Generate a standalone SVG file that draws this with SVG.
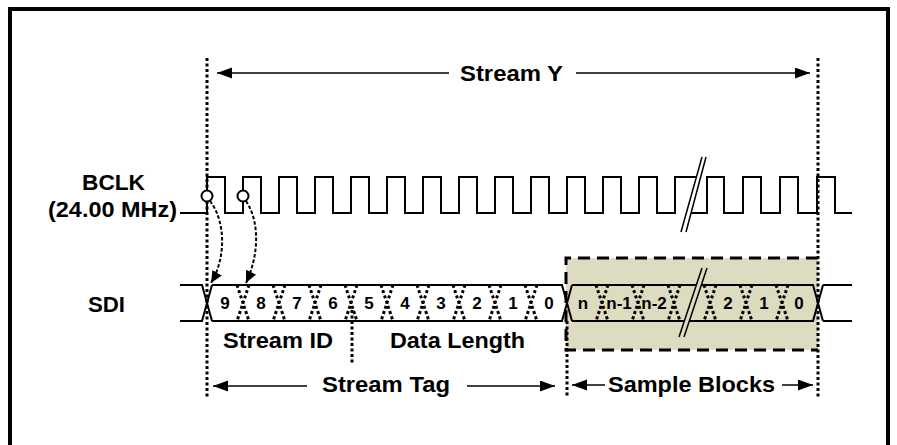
<svg xmlns="http://www.w3.org/2000/svg" width="897" height="445" viewBox="0 0 897 445">
<style>
.t{font-family:"Liberation Sans",Arial,sans-serif;font-weight:bold;fill:#000}
.big{font-size:22px}
.bit{font-size:17px;text-anchor:middle}
.ln{stroke:#000;stroke-width:2;fill:none}
.dot{stroke:#000;stroke-width:3;stroke-dasharray:3,2.5;fill:none}
.dx{stroke:#000;stroke-width:3;stroke-dasharray:3,2.5;fill:none}
.cv{stroke:#000;stroke-width:2;stroke-dasharray:3.5,2;fill:none}
.ar{stroke:#000;stroke-width:1.5;fill:none}
</style>
<defs>
<marker id="ah" markerUnits="userSpaceOnUse" markerWidth="16" markerHeight="12" refX="15" refY="5.5" orient="auto-start-reverse">
<path d="M0,0 L15,5.5 L0,11 z" fill="#000"/>
</marker>
<marker id="ah2" markerUnits="userSpaceOnUse" markerWidth="13" markerHeight="12" refX="12" refY="5.5" orient="auto">
<path d="M0,0 L12,5.5 L0,11 z" fill="#000"/>
</marker>
</defs>
<rect x="10" y="9" width="878" height="460" fill="#fff" stroke="#000" stroke-width="4"/>

<g id="sample-box">
<rect x="566" y="258" width="252" height="92" fill="#dddbc0"/>
<path d="M818,258 H566 V350 H818" fill="none" stroke="#000" stroke-width="3" stroke-dasharray="12,7"/>
</g>

<g id="bclk">
<path class="ln" d="M180,213 H207 V177 H225 V213 H243 V177 H261 V213 H279 V177 H297 V213 H315 V177 H333 V213 H351 V177 H369 V213 H387 V177 H405 V213 H423 V177 H441 V213 H459 V177 H477 V213 H495 V177 H513 V213 H531 V177 H549 V213 H567 V177 H585 V213 H603 V177 H621 V213 H639 V177 H657 V213 H675 V177 H698"/>
<path class="ln" d="M686,213 H707 V177 H724 V213 H743 V177 H761 V213 H780 V177 H798 V213 H817 V177 H835 V213 H852"/>
<polygon points="702,157 706,157 686,232 681,232" fill="#fff"/>
<line x1="702" y1="157" x2="681" y2="232" stroke="#000" stroke-width="1.5"/>
<line x1="706" y1="157" x2="686" y2="232" stroke="#000" stroke-width="1.5"/>
<text class="t big" x="113.5" y="190" text-anchor="middle" textLength="63" lengthAdjust="spacingAndGlyphs">BCLK</text>
<text class="t big" x="48" y="217" textLength="129" lengthAdjust="spacingAndGlyphs">(24.00 MHz)</text>
</g>

<g id="sdi">
<path class="ln" d="M180,285 H202 L212,321 M180,321 H202 L212,285 M212,285 H562 L572,321 M212,321 H562 L572,285 M572,285 H813 L823,321 M572,321 H813 L823,285 M823,285 H852 M823,321 H852"/>
<path class="dx" d="M237,285 L249,321 M249,285 L237,321 M273,285 L285,321 M285,285 L273,321 M309,285 L321,321 M321,285 L309,321 M345,285 L357,321 M357,285 L345,321 M381,285 L393,321 M393,285 L381,321 M417,285 L429,321 M429,285 L417,321 M453,285 L465,321 M465,285 L453,321 M489,285 L501,321 M501,285 L489,321 M525,285 L537,321 M537,285 L525,321 M596,285 L608,321 M608,285 L596,321 M632,285 L644,321 M644,285 L632,321 M668,285 L680,321 M680,285 L668,321 M704,285 L716,321 M716,285 L704,321 M740,285 L752,321 M752,285 L740,321 M776,285 L788,321 M788,285 L776,321"/>
<polygon points="702,268 707,268 684,337 679,337" fill="#dddbc0"/>
<line x1="702" y1="268" x2="679" y2="337" stroke="#000" stroke-width="1.5"/>
<line x1="707" y1="268" x2="684" y2="337" stroke="#000" stroke-width="1.5"/>
<text class="t big" x="88" y="312" textLength="37" lengthAdjust="spacingAndGlyphs">SDI</text>
<text class="t bit" x="225" y="309">9</text>
<text class="t bit" x="261" y="309">8</text>
<text class="t bit" x="297" y="309">7</text>
<text class="t bit" x="333" y="309">6</text>
<text class="t bit" x="369" y="309">5</text>
<text class="t bit" x="405" y="309">4</text>
<text class="t bit" x="441" y="309">3</text>
<text class="t bit" x="477" y="309">2</text>
<text class="t bit" x="513" y="309">1</text>
<text class="t bit" x="549" y="309">0</text>
<text class="t bit" x="583" y="309">n</text>
<text class="t bit" x="619" y="309">n-1</text>
<text class="t bit" x="654" y="309">n-2</text>
<text class="t bit" x="728" y="309">2</text>
<text class="t bit" x="764" y="309">1</text>
<text class="t bit" x="799" y="309">0</text>
</g>

<g id="fields">
<text class="t big" x="223" y="348" textLength="110" lengthAdjust="spacingAndGlyphs">Stream ID</text>
<text class="t big" x="390" y="348" textLength="135" lengthAdjust="spacingAndGlyphs">Data Length</text>
<text class="t big" x="322" y="392" textLength="128" lengthAdjust="spacingAndGlyphs">Stream Tag</text>
<text class="t big" x="608" y="392" textLength="167" lengthAdjust="spacingAndGlyphs">Sample Blocks</text>
<text class="t big" x="460" y="81" textLength="103" lengthAdjust="spacingAndGlyphs">Stream Y</text>
</g>

<g id="connectors">
<line class="dot" x1="207" y1="58" x2="207" y2="398"/>
<line class="dot" x1="818" y1="58" x2="818" y2="398"/>
<line class="dot" x1="567" y1="321" x2="567" y2="398"/>
<line class="dot" x1="352" y1="310" x2="352" y2="364"/>
<line class="ar" x1="449" y1="73" x2="217" y2="73" marker-end="url(#ah)"/>
<line class="ar" x1="576" y1="73" x2="810" y2="73" marker-end="url(#ah)"/>
<line class="ar" x1="307" y1="386" x2="213" y2="386" marker-end="url(#ah)"/>
<line class="ar" x1="467" y1="386" x2="555" y2="386" marker-end="url(#ah)"/>
<line class="ar" x1="605" y1="385" x2="572" y2="385" marker-end="url(#ah)"/>
<line class="ar" x1="782" y1="385" x2="813" y2="385" marker-end="url(#ah)"/>
<path class="cv" d="M210,201 C226,222 226,258 211,283" marker-end="url(#ah2)"/>
<path class="cv" d="M246,201 C260,222 259,255 246,283" marker-end="url(#ah2)"/>
<circle cx="207" cy="196" r="5.5" fill="#fff" stroke="#000" stroke-width="2"/>
<circle cx="243" cy="196" r="5.5" fill="#fff" stroke="#000" stroke-width="2"/>
</g>
</svg>
